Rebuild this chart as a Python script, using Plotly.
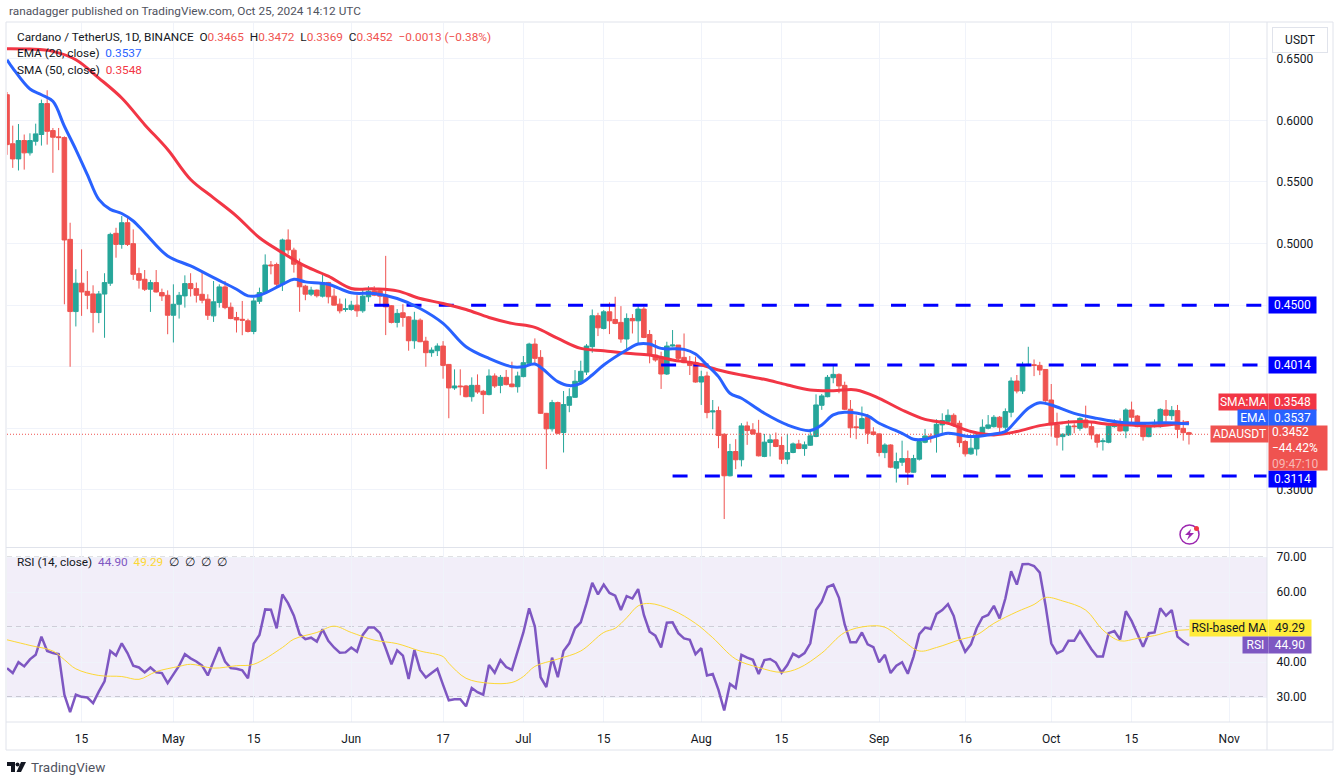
import pandas as pd
import plotly.graph_objects as go

# --- Candles (Apr 2 to Oct 25, one per day) ---
opens = [
    .6208, .581, .5687, .5836, .5736, .583, .5885, .6136, .5917, .5866,
    .586, .5034, .4448, .4678, .4612, .4591, .444, .459, .4678, .5083,
    .4993, .5169, .4999, .4756, .471, .4629, .4683, .4602, .458, .4418,
    .4507, .4575, .4675, .4634, .4588, .4548, .4413, .4521, .4648, .4483,
    .44, .4385, .4373, .4286, .4531, .4602, .4826, .483, .467, .5029,
    .4946, .4838, .4654, .4589, .4622, .4573, .4684, .4573, .4508, .4465,
    .4465, .45, .4454, .4568, .4616, .4616, .4581, .4495, .436, .4438,
    .4405, .4211, .4378, .4208, .4114, .413, .4168, .4019, .3828, .3844,
    .3844, .3757, .3849, .3801, .3774, .3925, .3849, .3914, .386, .3838,
    .392, .4028, .4184, .4076, .3622, .3496, .3709, .3466, .3687, .3752,
    .3876, .3957, .4163, .4414, .4311, .4446, .4384, .436, .4225, .4392,
    .4373, .4468, .4262, .4095, .4082, .3941, .4168, .4176, .4076, .4041,
    .4022, .3876, .3925, .3633, .3644, .3452, .3115, .3312, .3245, .352,
    .3488, .346, .3272, .3385, .3407, .3361, .325, .3304, .3374, .3336,
    .3363, .3434, .3687, .3757, .3911, .3938, .3849, .3655, .3512, .3498,
    .359, .3471, .3455, .3303, .3365, .3177, .3225, .3255, .3144, .325,
    .3387, .3438, .3433, .3528, .3557, .3606, .3541, .3393, .3293, .3333,
    .3441, .3501, .3514, .359, .3509, .3631, .3884, .3803, .4014, .4016,
    .4011, .3978, .373, .3528, .3433, .3447, .3519, .35, .3568, .3514,
    .3447, .3392, .3387, .3514, .3536, .3479, .3649, .36, .3536, .3433,
    .3522, .3514, .3649, .3603, .3644, .35, .3465,
]
highs = [
    .623, .5957, .597, .5885, .5895, .5973, .6168, .6244, .5938, .5938,
    .587, .5169, .4791, .4953, .4777, .4661, .4615, .4759, .5088, .5128,
    .5223, .5223, .5115, .4804, .4785, .4705, .4785, .4634, .462, .4669,
    .4607, .4742, .4759, .4683, .4764, .4588, .4696, .4669, .4696, .4521,
    .4445, .4534, .439, .4561, .4642, .4912, .4858, .4845, .504, .5115,
    .4966, .4878, .4665, .4649, .4627, .4748, .4689, .4635, .4554, .4554,
    .4535, .4581, .4627, .4654, .4654, .4635, .49, .45, .4468, .4508,
    .4411, .4446, .4392, .4243, .4157, .419, .4208, .4022, .3979, .3979,
    .3852, .3914, .3938, .3812, .3979, .3946, .3933, .3974, .4041, .396,
    .4087, .4195, .423, .4135, .3625, .3731, .3717, .3803, .3825, .3973,
    .4049, .4184, .4465, .4438, .446, .4522, .4568, .4492, .4433, .4427,
    .4492, .4487, .4298, .4217, .4122, .4203, .4298, .4176, .427, .4087,
    .4082, .3968, .396, .373, .3677, .346, .3374, .3412, .3542, .3555,
    .3542, .3569, .3455, .345, .3466, .3434, .3455, .3385, .3407, .3393,
    .3482, .3776, .3779, .3933, .4019, .3946, .3879, .373, .3606, .3677,
    .3617, .3509, .346, .3379, .3371, .3303, .34, .332, .3285, .3401,
    .3495, .346, .3573, .3622, .3654, .3622, .3563, .3406, .342, .3455,
    .3573, .3608, .3608, .36, .3662, .3914, .3933, .404, .4162, .4059,
    .404, .3978, .386, .3627, .346, .3568, .3541, .359, .3684, .3555,
    .3455, .342, .3541, .3573, .3581, .3663, .3717, .3609, .3541, .3528,
    .3573, .3663, .373, .3681, .369, .3568, .3472,
]
lows = [
    .572, .5614, .5593, .56, .5714, .5795, .5795, .5803, .5574, .5758,
    .4507, .40, .4327, .4413, .4467, .4278, .4354, .4235, .4656, .4885,
    .4958, .498, .4705, .4634, .4615, .4445, .4602, .4534, .4264, .4197,
    .4391, .448, .457, .4521, .4515, .438, .4364, .448, .4467, .4386,
    .4278, .4256, .4278, .4264, .451, .459, .475, .465, .4615, .4912,
    .4764, .4446, .454, .4573, .4562, .4562, .4514, .4498, .4433, .4446,
    .4454, .4405, .4438, .4527, .4573, .45, .4257, .4352, .4319, .4325,
    .413, .4146, .42, .40, .4081, .4087, .3903, .3582, .3812, .3768,
    .3752, .3717, .378, .3617, .3768, .3828, .3785, .3849, .3833, .379,
    .3914, .4022, .4022, .3617, .3169, .3474, .3452, .3304, .3631, .3747,
    .3871, .3933, .4114, .4249, .4303, .4265, .4345, .4195, .4141, .427,
    .4184, .4232, .4028, .4041, .382, .3933, .4163, .4055, .4028, .3933,
    .3871, .369, .3582, .3493, .3339, .2764, .311, .3169, .3191, .3366,
    .3447, .3272, .3266, .3272, .3347, .3212, .3209, .3298, .3331, .3277,
    .3358, .3428, .365, .3752, .3866, .3785, .3649, .3423, .3412, .3493,
    .3374, .3442, .3272, .3258, .3177, .306, .3195, .3041, .3141, .3239,
    .3379, .3384, .3303, .346, .3546, .3514, .3347, .3271, .3285, .3279,
    .3433, .3492, .3506, .3455, .3455, .359, .3784, .3779, .4005, .3924,
    .3932, .3716, .3433, .336, .332, .3438, .346, .3481, .35, .3411,
    .3344, .332, .3379, .3506, .3474, .342, .3528, .3509, .34, .3428,
    .3508, .3506, .3555, .3568, .342, .34, .3369,
]
closes = [
    .5803, .5687, .5836, .5736, .5836, .589, .6136, .5911, .5863, .586,
    .5029, .4448, .4678, .4607, .458, .444, .4591, .4683, .5074, .4993,
    .5169, .4993, .475, .4702, .4629, .4683, .4607, .4575, .4418, .4507,
    .458, .4675, .4634, .458, .454, .4418, .4527, .4648, .448, .4391,
    .438, .4378, .4286, .4534, .4602, .4826, .482, .467, .5029, .4948,
    .4832, .4649, .4589, .4622, .4576, .4684, .4568, .45, .4454, .447,
    .45, .4454, .4573, .4613, .4581, .4573, .4486, .436, .4433, .44,
    .4211, .4378, .4203, .4114, .4135, .4168, .4011, .3828, .3844, .3838,
    .3757, .3849, .3795, .3774, .3925, .3844, .3914, .3855, .3838, .3925,
    .4033, .4184, .4068, .3622, .3496, .3709, .346, .3693, .3757, .3882,
    .3963, .4168, .4414, .4316, .4446, .4373, .4352, .4225, .4392, .4373,
    .4468, .4238, .4095, .4055, .3941, .4168, .4176, .4068, .4033, .4011,
    .3876, .3919, .3628, .3641, .3442, .3115, .3312, .3245, .352, .3482,
    .3455, .3277, .3388, .3407, .3353, .325, .3304, .3374, .3336, .3366,
    .3439, .369, .3763, .3914, .3938, .3844, .3655, .3504, .3506, .3579,
    .346, .345, .3304, .3365, .3185, .323, .3255, .3144, .3255, .3393,
    .3438, .3433, .3533, .3563, .3606, .3528, .3384, .3293, .3339, .3447,
    .3509, .3528, .359, .3509, .3636, .3884, .3803, .4014, .4019, .4011,
    .3973, .3724, .3528, .3428, .3452, .3519, .3514, .3581, .3509, .3447,
    .3387, .3398, .3519, .3541, .3479, .3649, .359, .3514, .3433, .3514,
    .3527, .3654, .3606, .3646, .3492, .3465, .3452,
]

# Moving averages, read at every few candles (day number, value)
sma_days = list(range(0, 205, 4)) + [206]
sma_values = [
    .6581, .6578, .656, .6492, .6343, .6181, .5965, .5763, .552, .5371,
    .5223, .5047, .4926, .4816, .4735, .4635, .4632, .4616, .4554, .4514,
    .4465, .44, .4352, .4319, .423, .4149, .413, .4109, .4095, .4055,
    .4028, .3974, .3933, .3898, .3852, .3812, .3806, .3812, .3744, .3649,
    .3573, .3541, .3474, .3447, .3474, .3522, .3546, .3555, .3533, .3527,
    .3519, .3536, .3548,
]
ema_days = [
    0, 1, 4, 6, 8, 10, 12, 14, 16, 18, 20, 22, 24, 28, 32, 36, 40, 42, 44, 48,
    50, 52, 56, 60, 64, 68, 72, 76, 80, 84, 88, 90, 92, 96, 98, 100, 102, 104,
    108, 110, 112, 114, 118, 120, 122, 124, 126, 128, 132, 136, 140, 142, 144,
    146, 150, 152, 156, 158, 160, 164, 168, 172, 174, 176, 178, 180, 182, 186,
    190, 194, 198, 202, 206,
]
ema_values = [
    .6492, .6424, .6254, .6208, .6154, .5952, .5763, .556, .5358, .5277, .5244,
    .5183, .5088, .4899, .4818, .4723, .4629, .4575, .458, .4669, .471, .4689,
    .467, .46, .4595, .4554, .4473, .4352, .4163, .4068, .40, .40, .4022, .3879,
    .3847, .3866, .3933, .4014, .4136, .4184, .4184, .4149, .4141, .4103, .4014,
    .392, .3785, .3744, .3622, .3528, .3482, .3528, .3609, .3631, .3601, .3541,
    .346, .3411, .3411, .346, .3433, .3455, .3474, .3568, .3663, .3708, .369,
    .3622, .3581, .3549, .3541, .3546, .3537,
]

# RSI (14), one value per candle
rsi_values = [
    38.3, 36.9, 40.0, 38.8, 40.8, 42.1, 47.3, 43.2, 42.6, 42.3,
    30.7, 25.7, 30.7, 30.1, 29.9, 28.3, 31.6, 34.5, 43.2, 41.9,
    45.4, 42.6, 39.0, 38.5, 37.1, 38.5, 37.1, 36.9, 34.0, 36.6,
    39.0, 42.3, 41.1, 40.2, 39.0, 36.2, 40.2, 44.3, 40.2, 38.3,
    38.1, 37.7, 35.4, 45.3, 47.8, 55.1, 55.0, 49.7, 59.4, 56.8,
    53.3, 48.0, 46.6, 47.0, 45.9, 49.4, 46.1, 44.2, 42.7, 42.8,
    44.2, 43.0, 47.8, 49.9, 49.9, 48.3, 44.0, 39.4, 43.4, 41.9,
    35.2, 43.5, 37.8, 35.6, 36.9, 38.1, 33.5, 29.1, 29.4, 29.4,
    27.4, 32.6, 31.4, 30.7, 39.2, 37.0, 40.6, 38.6, 37.8, 43.2,
    48.5, 55.4, 50.2, 35.7, 32.9, 41.3, 35.7, 43.2, 45.4, 49.7,
    51.4, 56.8, 62.7, 59.4, 62.2, 59.8, 59.0, 54.9, 58.9, 58.2,
    60.9, 53.5, 48.7, 47.6, 44.2, 51.3, 51.4, 48.3, 46.8, 46.4,
    42.3, 44.0, 36.2, 36.6, 32.1, 26.2, 33.8, 32.6, 42.1, 41.3,
    40.7, 36.6, 40.6, 40.9, 39.9, 37.0, 39.2, 42.4, 41.5, 42.6,
    45.4, 54.9, 57.3, 61.5, 62.2, 58.4, 50.8, 45.7, 45.7, 48.5,
    45.1, 44.3, 40.0, 42.1, 36.9, 39.0, 40.0, 36.7, 41.6, 48.0,
    49.9, 49.5, 53.8, 54.9, 56.6, 53.2, 46.8, 43.0, 45.1, 49.7,
    52.8, 53.5, 56.1, 52.5, 58.2, 66.0, 62.2, 68.0, 68.1, 67.5,
    65.6, 56.3, 45.4, 42.5, 43.3, 46.1, 46.1, 48.9, 46.4, 43.7,
    41.6, 41.6, 48.3, 48.9, 46.5, 54.6, 51.8, 48.3, 44.4, 48.3,
    48.5, 55.4, 53.3, 54.9, 47.3, 45.9, 44.9,
]
rsi_ma_days = [
    0, 4, 8, 10, 12, 16, 20, 23, 26, 30, 32, 36, 40, 43, 48, 50, 54, 57, 60, 64,
    68, 72, 76, 77, 80, 84, 88, 90, 92, 96, 100, 104, 106, 108, 110, 112, 116,
    120, 123, 127, 131, 135, 138, 142, 146, 150, 153, 156, 159, 162, 166, 169,
    172, 176, 179, 181, 184, 188, 191, 194, 197, 200, 203, 206,
]
rsi_ma_values = [
    46.4, 44.8, 43.2, 40.7, 38.1, 36.2, 35.9, 35.1, 37.3, 38.8, 39.4, 38.3, 39.0,
    39.4, 44.2, 46.6, 48.5, 50.3, 48.5, 46.3, 45.3, 43.2, 41.6, 39.7, 35.4, 34.0,
    34.2, 35.9, 38.8, 40.9, 43.2, 48.5, 49.7, 52.7, 56.1, 56.8, 54.9, 51.1, 47.0,
    40.9, 38.5, 37.1, 38.3, 42.6, 48.5, 50.3, 50.0, 46.4, 43.2, 44.2, 46.4, 47.8,
    51.1, 54.4, 56.5, 58.5, 57.5, 54.9, 49.2, 46.1, 46.8, 47.6, 48.9, 49.29,
]

# Hand-drawn levels and axis ticks
level_values = [0.45, 0.4014, 0.3114]
level_starts = ["2024-06-05", "2024-07-25", "2024-07-27"]
last_close = 0.3452
x_tick_dates = ["2024-04-15", "2024-05-01", "2024-05-15", "2024-06-01", "2024-06-17", "2024-07-01", "2024-07-15",
                "2024-08-01", "2024-08-15", "2024-09-01", "2024-09-16", "2024-10-01", "2024-10-15", "2024-11-01"]
x_tick_labels = ["15", "May", "15", "Jun", "17", "Jul", "15", "Aug", "15", "Sep", "16", "Oct", "15", "Nov"]
price_ticks = [0.30, 0.35, 0.40, 0.45, 0.50, 0.55, 0.60, 0.65]
price_labels = ["0.3000", "", "", "", "0.5000", "0.5500", "0.6000", "0.6500"]  # the rest sit under the tags
rsi_ticks = [30, 40, 50, 60, 70]
rsi_labels = ["30.00", "40.00", "", "60.00", "70.00"]

start = pd.Timestamp("2024-04-02")
dates = pd.date_range(start, periods=len(closes), freq="D")
x_end = start + pd.Timedelta(days=219.6)

UP, DOWN = "#26a69a", "#ef5350"
EMA_COL, SMA_COL = "#2962ff", "#f23645"
RSI_COL, RSI_MA_COL = "#7e57c2", "#fdd835"
GRID, FRAME, TEXT = "#f0f3fa", "#e0e3eb", "#131722"
FONT = "Roboto"

# Pixel position on the page to paper coordinates
PX = lambda v: (v - 7) / 1260
PY = lambda v: (722 - v) / 699

fig = go.Figure(
    data=[go.Candlestick(x=dates, open=opens, high=highs, low=lows, close=closes, yaxis="y",
                         increasing=dict(line=dict(color=UP, width=1), fillcolor=UP),
                         decreasing=dict(line=dict(color=DOWN, width=1), fillcolor=DOWN),
                         whiskerwidth=0)]
)

# Dotted last price line and the dashed levels
fig.add_trace(go.Scatter(x=[start, "2024-10-28 16:00"], y=[last_close, last_close], mode="lines",
                         line=dict(color=DOWN, width=1, dash="1px,2px")))
for value, begin in zip(level_values, level_starts):
    fig.add_trace(go.Scatter(x=[begin, x_end], y=[value, value], mode="lines",
                             line=dict(color="#0000ff", width=3, dash="15px,17.3px")))

fig.add_trace(go.Scatter(x=start + pd.to_timedelta(sma_days, unit="D"), y=sma_values, mode="lines",
                         line=dict(color=SMA_COL, width=3, shape="spline")))
fig.add_trace(go.Scatter(x=start + pd.to_timedelta(ema_days, unit="D"), y=ema_values, mode="lines",
                         line=dict(color=EMA_COL, width=3, shape="spline")))

# RSI pane
fig.add_trace(go.Scatter(x=dates, y=rsi_values, mode="lines", yaxis="y2", line=dict(color=RSI_COL, width=2.5)))
fig.add_trace(go.Scatter(x=start + pd.to_timedelta(rsi_ma_days, unit="D"), y=rsi_ma_values, mode="lines", yaxis="y2",
                         line=dict(color=RSI_MA_COL, width=1, shape="spline")))

shapes = [
    dict(type="rect", xref="paper", yref="y2", x0=0, x1=1, y0=30, y1=70, layer="below",
         fillcolor="rgba(126,87,194,0.1)", line=dict(width=0)),
]
for level in [30, 50, 70]:
    shapes.append(dict(type="line", xref="paper", yref="y2", x0=0, x1=1, y0=level, y1=level, layer="below",
                       line=dict(color="#787b86", width=1, dash="5px,4px")))

# Frame of the chart
shapes += [
    dict(type="rect", xref="paper", yref="paper", x0=PX(6), x1=PX(1333), y0=PY(750), y1=PY(22),
         line=dict(color=FRAME, width=1)),
    dict(type="line", xref="paper", yref="paper", x0=PX(1267), x1=PX(1267), y0=PY(750), y1=PY(22),
         line=dict(color=FRAME, width=1)),
    dict(type="line", xref="paper", yref="paper", x0=PX(6), x1=PX(1333), y0=PY(547.5), y1=PY(547.5),
         line=dict(color=FRAME, width=1)),
    dict(type="line", xref="paper", yref="paper", x0=PX(6), x1=PX(1333), y0=PY(722), y1=PY(722),
         line=dict(color=FRAME, width=1)),
]

# Lightning badge
shapes += [
    dict(type="circle", xref="paper", yref="paper", x0=PX(1180), x1=PX(1199), y0=PY(544), y1=PY(525),
         line=dict(color="#9c27b0", width=1.5)),
    dict(type="circle", xref="paper", yref="paper", x0=PX(1194), x1=PX(1199), y0=PY(531), y1=PY(526),
         fillcolor="#f23645", line=dict(width=0)),
    dict(type="path", xref="paper", yref="paper", fillcolor="#9c27b0", line=dict(width=0),
         path=f"M {PX(1191)} {PY(529)} L {PX(1185)} {PY(535)} L {PX(1189)} {PY(535)} L {PX(1187)} {PY(540)} "
              f"L {PX(1194)} {PY(533)} L {PX(1190)} {PY(533)} Z"),
]

# TradingView logo
shapes += [
    dict(type="path", xref="paper", yref="paper", fillcolor=TEXT, line=dict(width=0),
         path=f"M {PX(7)} {PY(762)} L {PX(15)} {PY(762)} L {PX(15)} {PY(772)} L {PX(11)} {PY(772)} "
              f"L {PX(11)} {PY(766)} L {PX(7)} {PY(766)} Z"),
    dict(type="circle", xref="paper", yref="paper", fillcolor=TEXT, line=dict(width=0),
         x0=PX(15.5), x1=PX(19.5), y0=PY(766.5), y1=PY(762.5)),
    dict(type="path", xref="paper", yref="paper", fillcolor=TEXT, line=dict(width=0),
         path=f"M {PX(21)} {PY(762)} L {PX(26)} {PY(762)} L {PX(21)} {PY(772)} L {PX(16.5)} {PY(772)} Z"),
]


def red(text):
    return f'<span style="color:{DOWN}">{text}</span>'


# Text at the top of each pane
annotations = [
    dict(x=PX(7), y=PY(11), text="ranadagger published on TradingView.com, Oct 25, 2024 14:12 UTC", color="#50535e"),
    dict(x=PX(15), y=PY(37), color=TEXT,
         text=f"Cardano / TetherUS, 1D, BINANCE  O{red('0.3465')}  H{red('0.3472')}  L{red('0.3369')}  C{red('0.3452')}  "
              f"{red('−0.0013 (−0.38%)')}"),
    dict(x=PX(15), y=PY(53.5), color=TEXT, text=f'EMA (20, close)  <span style="color:{EMA_COL}">0.3537</span>'),
    dict(x=PX(15), y=PY(70), color=TEXT, text=f'SMA (50, close)  <span style="color:{SMA_COL}">0.3548</span>'),
    dict(x=PX(15), y=PY(562), color=TEXT,
         text=f'RSI (14, close)  <span style="color:{RSI_COL}">44.90</span>  '
              f'<span style="color:{RSI_MA_COL}">49.29</span>  ∅  ∅  ∅  ∅'),
    dict(x=PX(29), y=PY(767), color="#50535e", text="TradingView", size=13.5),
]
annotations = [
    dict(xref="paper", yref="paper", x=a["x"], y=a["y"], text=a["text"], showarrow=False, xanchor="left",
         yanchor="middle", font=dict(family=FONT, size=a.get("size", 11.8), color=a["color"]))
    for a in annotations
]

# Coloured tags beside the price scale: left px, right px, centre px, text, fill, text colour
tags = [
    (1268, 1315, 305, "0.4500", "#0000ff", "white"),
    (1268, 1315, 365, "0.4014", "#0000ff", "white"),
    (1268, 1315, 479, "0.3114", "#0000ff", "white"),
    (1218, 1267, 401.5, "SMA:MA", SMA_COL, "white"),
    (1268, 1315, 401.5, "0.3548", SMA_COL, "white"),
    (1237, 1267, 418, "EMA", EMA_COL, "white"),
    (1268, 1315, 418, "0.3537", EMA_COL, "white"),
    (1210, 1267, 434, "ADAUSDT", DOWN, "white"),
    (1268, 1326, 448, "&nbsp;0.3452<br>&nbsp;−44.42%<br>&nbsp;<span style='color:#f7b7b5'>09:47:10</span>", DOWN, "white"),
    (1189, 1267, 628, "RSI-based MA", "#ffeb3b", TEXT),
    (1268, 1310, 628, "49.29", "#ffeb3b", TEXT),
    (1242, 1267, 645, "RSI", RSI_COL, "white"),
    (1268, 1310, 645, "44.90", RSI_COL, "white"),
]
for left, right, centre, text, fill, colour in tags:
    lines = text.count("<br>") + 1
    annotations.append(dict(xref="paper", yref="paper", x=PX(left), y=PY(centre), text=text, showarrow=False,
                            xanchor="left", yanchor="middle", width=right - left, height=(16 if lines == 1 else 44),
                            align="center" if lines == 1 else "left", bgcolor=fill, borderpad=0,
                            font=dict(family=FONT, size=12, color=colour)))

annotations.append(dict(xref="paper", yref="paper", x=PX(1272), y=PY(40), text="USDT", showarrow=False,
                        xanchor="left", yanchor="middle", width=52, height=22, bordercolor=FRAME, borderwidth=1,
                        font=dict(family=FONT, size=12, color=TEXT)))

fig.update_layout(
    width=1337,
    height=779,
    paper_bgcolor="white",
    plot_bgcolor="white",
    showlegend=False,
    boxgap=0.2,
    boxgroupgap=0,
    font=dict(family=FONT, size=12, color=TEXT),
    xaxis=dict(
        anchor="y2",
        type="date",
        range=[start, x_end],
        tickvals=x_tick_dates,
        ticktext=x_tick_labels,
        tickangle=0,
        showgrid=True,
        gridcolor=GRID,
        zeroline=False,
        showline=False,
        ticks="outside",
        ticklen=6,
        tickcolor="white",
        rangeslider=dict(visible=False)
    ),
    yaxis=dict(
        domain=[175 / 699, 1],
        side="right",
        range=[0.2537, 0.679],
        tickvals=price_ticks,
        ticktext=price_labels,
        gridcolor=GRID,
        zeroline=False,
        ticks="outside",
        ticklen=6,
        tickcolor="white"
    ),
    yaxis2=dict(
        domain=[0, 174 / 699],
        side="right",
        range=[22.9, 72.65],
        tickvals=rsi_ticks,
        ticktext=rsi_labels,
        gridcolor=GRID,
        zeroline=False,
        ticks="outside",
        ticklen=6,
        tickcolor="white"
    ),
    shapes=shapes,
    annotations=annotations,
    margin=dict(l=7, r=70, t=23, b=57)
)

# The page's own 8 px body margin would push everything off the reference position
fig.write_html("out.html", config={"displayModeBar": False}, post_script="document.body.style.margin = '0';")
